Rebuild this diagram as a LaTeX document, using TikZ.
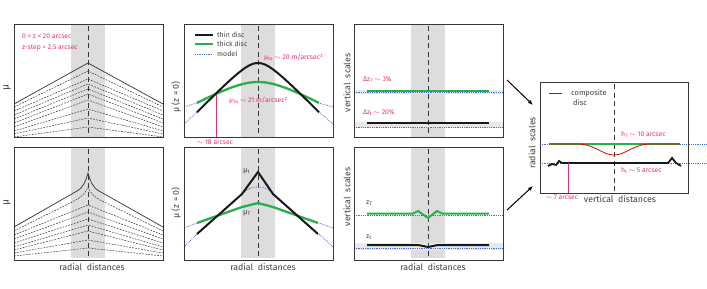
\documentclass[tikz,border=0pt]{standalone}
\usepackage{fontspec}
\setmainfont{Fira Sans}
\usetikzlibrary{arrows.meta}
\definecolor{pinkr}{RGB}{235,50,105}
\definecolor{grn}{RGB}{40,175,75}
\definecolor{blu}{RGB}{70,110,210}
\definecolor{bandc}{RGB}{221,221,221}
\definecolor{lband}{RGB}{232,232,232}
\definecolor{framec}{RGB}{55,55,55}
\begin{document}
\begin{tikzpicture}[x=1pt,y=-1pt,
 panel/.style={draw=framec,line width=1.1pt,minimum width=149pt,minimum height=113pt,anchor=north west,inner sep=0pt},
 cline/.style={draw=framec,dash pattern=on 5pt off 3.5pt,line width=1pt},
 pinktxt/.style={text=pinkr,font=\fontsize{6.8}{7.5}\selectfont,inner sep=0pt},
 legtxt/.style={text=black!75,font=\fontsize{7}{8}\selectfont,inner sep=0pt,anchor=west},
 axlab/.style={font=\fontsize{8.8}{10}\selectfont,text=black!75,inner sep=0pt},
 thinl/.style={line width=2pt,black!90},
 thickl/.style={line width=2.3pt,grn},
 model/.style={blu,densely dotted,line width=0.8pt},
 dline/.style={dash pattern=on 1.8pt off 1.2pt,line width=0.5pt,black!80},
 solidl/.style={line width=0.7pt,black!80},
 arr/.style={-{Latex[length=5pt,width=4pt]},line width=1pt,black}]
\useasboundingbox (0,0) rectangle (707,289);
% ---------- bands ----------
\foreach \xa/\xb in {71/105,241/275,411/445}{
  \fill[bandc] (\xa,24) rectangle (\xb,137);
  \fill[bandc] (\xa,147) rectangle (\xb,258);
}
% ---------- panel 1 top ----------
\foreach \L/\P in {107/71,111/79,115/84,119/89,123/94,127/100,131/109,134/118,137/127}{
  \draw[dline] (14,\L)--(88,\P)--(163,\L);
}
\draw[solidl] (14,104)--(88,63)--(163,104);
\draw[cline] (88,26)--(88,137);
\node[pinktxt,anchor=west] (t1) at (22,36) {0 < z < 20 arcsec};
\node[pinktxt,anchor=west] (t2) at (22,48) {z-step = 2.5 arcsec};
\node[axlab,rotate=90,font=\fontsize{10}{11}\selectfont] (y1) at (7,88) {μ};
% ---------- panel 1 bottom ----------
\foreach \L/\P in {235/205,239/212,243/219,247/225,250/231,253/240,256/248}{
  \draw[dline] (14,\L)--(88,\P)--(163,\L);
}
\draw[dline] (14,231)--(76,200) .. controls (83,196) and (86,192) .. (88,187) .. controls (90,192) and (93,196) .. (100,200) -- (163,231);
\draw[solidl] (14,227)--(77,191) .. controls (84,187) and (86,180) .. (88,173) .. controls (90,180) and (92,187) .. (99,191) -- (163,227);
\draw[cline] (88,149)--(88,258);
\node[axlab,rotate=90,font=\fontsize{10}{11}\selectfont] (y4) at (7,203) {μ};
\node[axlab] (x4) at (92,267) {radial\ \ distances};
% ---------- panel 2 top ----------
\draw[cline] (258,26)--(258,137);
\draw[model] (184,107)--(197,103);
\draw[model] (184,124)--(197,112);
\draw[model] (333,107)--(319,103);
\draw[model] (333,124)--(319,112);
\draw[pinkr,line width=0.6pt] (216,94)--(216,137);
\draw[thickl] plot[domain=-61:61,samples=60] ({258+\x},{82+0.55*(sqrt(\x*\x+900)-30)});
\draw[thinl] plot[domain=-61:61,samples=60] ({258+\x},{63+1.03*(sqrt(\x*\x+225)-15)});
\draw[thinl] (195,35)--(213,35);
\draw[thickl] (195,44)--(213,44);
\draw[model] (195,54)--(213,54);
\node[legtxt] (l1) at (217,35) {thin disc};
\node[legtxt] (l2) at (217,44) {thick disc};
\node[legtxt] (l3) at (217,54) {model};
\node[pinktxt,anchor=west] (m1) at (264,57) {μ\textsubscript{to}$\,\sim$ 20 m/arcsec²};
\node[pinktxt,anchor=west] (m2) at (229,100) {μ\textsubscript{To}$\,\sim$ 21 m/arcsec²};
\node[pinktxt] (m3) at (215,142) {$\sim$ 18 arcsec};
\node[axlab,rotate=90] (y2) at (176,97) {μ (z = 0)};
% ---------- panel 2 bottom ----------
\draw[cline] (258,149)--(258,258);
\draw[model] (184,228)--(197,223);
\draw[model] (184,247)--(197,234);
\draw[model] (333,228)--(319,223);
\draw[model] (333,247)--(319,234);
\draw[model] (242,194) .. controls (248,188) and (252,187) .. (258,187) .. controls (264,187) and (268,188) .. (273,194);
\draw[thickl] (197,223)--(242,207)--(258,203)--(273,207)--(318,223);
\draw[thinl] (197,234)--(242,194)--(258,172)--(273,194)--(318,234);
\node[axlab,font=\fontsize{7.5}{8}\selectfont,anchor=west] (mt) at (243,171) {μ\textsubscript{t}};
\node[axlab,font=\fontsize{7.5}{8}\selectfont,anchor=west] (mT) at (243,213) {μ\textsubscript{T}};
\node[axlab,rotate=90] (y5) at (176,203) {μ (z = 0)};
\node[axlab] (x5) at (263,267) {radial\ \ distances};
% ---------- panel 3 top ----------
\fill[lband] (354,89.5) rectangle (503,94);
\fill[lband] (354,122) rectangle (503,128);
\draw[cline] (428,26)--(428,137);
\draw[model] (354,92)--(503,92);
\draw[model] (354,127)--(503,127);
\draw[thickl,line width=2pt] (367,91)--(489,91);
\draw[thinl] (367,123)--(489,123);
\node[pinktxt,anchor=west] (d1) at (363,80) {Δz\textsubscript{T}$\,\sim$ 3\%};
\node[pinktxt,anchor=west] (d2) at (363,113) {Δz\textsubscript{t}$\,\sim$ 20\%};
\node[axlab,rotate=90] (y3) at (347,83) {vertical\ \ scales};
% ---------- panel 3 bottom ----------
\fill[lband] (354,243) rectangle (503,250);
\draw[cline] (428,149)--(428,258);
\draw[model] (354,215)--(503,215);
\draw[model] (354,248.5)--(503,248.5);
\draw[thickl,line width=2pt] (367,213.5)--(413,213.5)--(418,211)--(428,218)--(437,211)--(442,213.5)--(489,213.5);
\draw[thinl] (367,245)--(418,245)--(428,247)--(438,245)--(489,245);
\node[axlab,font=\fontsize{7}{8}\selectfont,anchor=west] (zT) at (366,203) {z\textsubscript{T}};
\node[axlab,font=\fontsize{7}{8}\selectfont,anchor=west] (zt) at (366,237) {z\textsubscript{t}};
\node[axlab,rotate=90] (y6) at (347,197) {vertical\ \ scales};
\node[axlab] (x6) at (433,267) {radial\ \ distances};
% ---------- panel 4 ----------
\draw[cline] (614,84)--(614,193);
\draw[model] (540,144)--(707,144);
\draw[model] (540,163)--(707,163);
\draw[thickl,line width=2.6pt] (549,144)--(680,144);
\draw[red!85!black,line width=0.8pt] (549,144)--(580,144) .. controls (595,145) and (603,155) .. (614,155) .. controls (625,155) and (633,145) .. (648,144) -- (680,144);
\draw[thinl,line width=1.8pt] (548,166)--(552,164)--(556,165)--(559,161)--(562,163)--(668,163)--(672,158)--(676,163)--(681,166);
\draw[pinkr,line width=0.6pt] (568,163)--(568,193);
\draw[red!85!black,line width=0.8pt] (549,93)--(562,93);
\node[legtxt,font=\fontsize{7.5}{8}\selectfont] (c1) at (571,93) {composite};
\node[legtxt,font=\fontsize{7.5}{8}\selectfont] (c2) at (573,103) {disc};
\node[pinktxt,anchor=west] (h1) at (621,134) {h\textsubscript{T}$\,\sim$ 10 arcsec};
\node[pinktxt,anchor=west] (h2) at (621,170) {h\textsubscript{t}$\,\sim$ 5 arcsec};
\node[pinktxt] (s7) at (562,197) {$\sim$ 7 arcsec};
\node[axlab] (x7) at (620,199) {vertical\ \ distances};
\node[axlab,rotate=90] (y7) at (532,143) {radial\ \ scales};
% ---------- frames ----------
\node[panel] (p1) at (14,24) {};
\node[panel] (p2) at (184,24) {};
\node[panel] (p3) at (354,24) {};
\node[panel] (p4) at (14,147) {};
\node[panel] (p5) at (184,147) {};
\node[panel] (p6) at (354,147) {};
\node[panel,minimum width=148pt,minimum height=111pt] (p7) at (540,82) {};
% ---------- arrows ----------
\coordinate (a1s) at (507,80);
\coordinate (a1e) at (533,105);
\coordinate (a2s) at (507,210);
\coordinate (a2e) at (533,186);
\draw[arr] (a1s)--(a1e);
\draw[arr] (a2s)--(a2e);
\end{tikzpicture}
\end{document}
